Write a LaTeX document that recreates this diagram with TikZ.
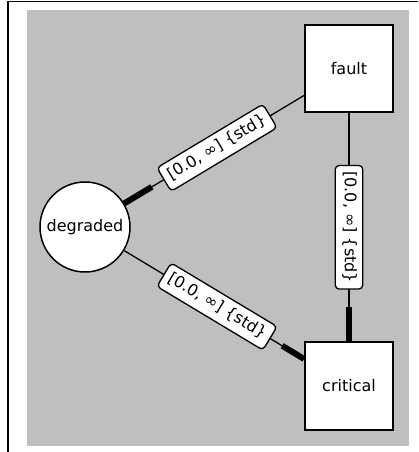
\documentclass[tikz,border=0pt]{standalone}
\usepackage{fontspec}
\setmainfont{DejaVu Sans}
\usetikzlibrary{calc}
\definecolor{bggray}{HTML}{BFBFBF}
\begin{document}
\begin{tikzpicture}[x=1pt,y=1pt,
  statebox/.style={draw=black, line width=2pt, fill=white, minimum width=88pt, minimum height=87.5pt, inner sep=0pt, font=\fontsize{16}{19}\selectfont},
  statecirc/.style={draw=black, line width=1.5pt, fill=white, circle, minimum size=90pt, inner sep=0pt, font=\fontsize{16}{19}\selectfont},
  conn/.style={draw=black, line width=1.3pt},
  thickseg/.style={draw=black, line width=6pt, line cap=butt},
  lbl/.style={draw=black, line width=1.3pt, fill=white, rounded corners=4pt, inner xsep=6pt, inner ysep=6pt, text height=12pt, text depth=3.5pt, font=\fontsize{16}{19}\selectfont}
]
\useasboundingbox (0,0) rectangle (418,452);
\fill[white] (0,0) rectangle (418,452);
\fill[bggray] (27,6.4) rectangle (409,442);
\draw[line width=1.2pt] (8,0) -- (8,450.8) -- (418,450.8);

\node[statebox] (fault) at (349,383.5) {fault};
\node[statebox] (crit) at (349,66) {critical};
\node[statecirc] (deg) at (85,225) {degraded};

\draw[conn] (deg) -- (fault);
\draw[conn] (deg) -- (crit);
\draw[conn] (fault) -- (crit);

\draw[thickseg] (deg) -- ($(deg.center)!78pt!(fault.center)$);
\draw[thickseg] (crit) -- ($(crit.center)!78pt!(deg.center)$);
\draw[thickseg] (crit) -- ($(crit.center)!79pt!(fault.center)$);

\node[lbl, rotate=31] (l1) at ($(deg.center)!0.5!(fault.center)$) {[0.0, ∞] \{std\}};
\node[lbl, rotate=-31] (l2) at ($(deg.center)!0.5!(crit.center)$) {[0.0, ∞] \{std\}};
\node[lbl, rotate=-90] (l3) at ($(fault.center)!0.5!(crit.center)$) {[0.0, ∞] \{std\}};
\end{tikzpicture}
\end{document}
